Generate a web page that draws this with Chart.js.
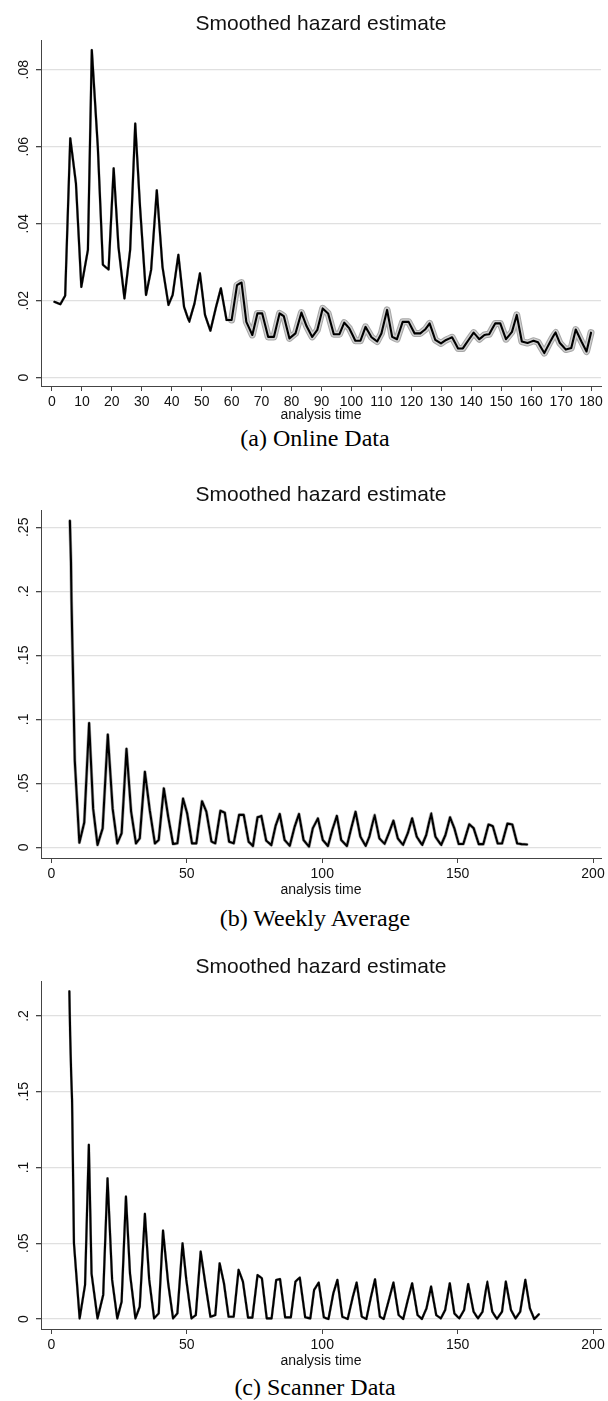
<!DOCTYPE html>
<html>
<head>
<meta charset="utf-8">
<script src="https://cdn.jsdelivr.net/npm/chart.js@4"></script>
<style>
  body { margin: 0; background: #fff; width: 608px; height: 1401px; position: relative; overflow: hidden; }
  .box { position: absolute; left: 0; width: 608px; }
  .cap { position: absolute; left: 0; width: 630px; text-align: center; font-family: "Liberation Serif", "Times New Roman", serif; font-size: 24px; line-height: 28px; color: #000; }
</style>
</head>
<body>
<div class="box" style="top:0;height:424px"><canvas id="online"></canvas></div>
<div class="cap" style="top:424px">(a) Online Data</div>
<div class="box" style="top:460px;height:439px"><canvas id="weekly"></canvas></div>
<div class="cap" style="top:904px">(b) Weekly Average</div>
<div class="box" style="top:930px;height:440px"><canvas id="scanner"></canvas></div>
<div class="cap" style="top:1373px">(c) Scanner Data</div>
<script>
// (a) online data: analysis time / smoothed hazard
const onlineTime = [0.8, 2.8, 4.4, 6.1, 8.0, 9.8, 12.0, 13.3, 15.3, 17.0,
  18.9, 20.6, 22.2, 24.2, 26.1, 27.8, 29.4, 31.4, 33.1, 35.0,
  36.9, 38.9, 40.3, 42.2, 44.1, 45.8, 47.6, 49.4, 51.1, 52.9,
  54.8, 56.4, 58.3, 60.0, 61.8, 63.3, 64.9, 66.9, 68.6, 70.2,
  72.2, 74.1, 76.0, 77.4, 79.3, 81.3, 83.3, 85.0, 86.9, 88.6,
  90.4, 92.2, 94.1, 96.0, 97.6, 99.3, 101.3, 103.0, 104.7, 106.7,
  108.6, 110.0, 111.9, 113.6, 115.2, 117.1, 119.1, 121.1, 123.0, 124.7,
  126.1, 128.0, 129.9, 131.6, 133.6, 135.6, 137.2, 139.1, 140.8, 142.7,
  144.4, 146.0, 148.0, 149.7, 151.6, 153.6, 155.2, 156.9, 158.8, 160.8,
  162.3, 164.4, 166.2, 168.1, 169.6, 171.6, 173.4, 174.9, 176.8, 178.5, 180.0];
const onlineHazard = [0.0197, 0.0191, 0.0213, 0.0622, 0.0505, 0.0236, 0.0332, 0.0851, 0.0600, 0.0293,
  0.0281, 0.0544, 0.0340, 0.0206, 0.0332, 0.0660, 0.0444, 0.0215, 0.0280, 0.0487,
  0.0288, 0.0189, 0.0215, 0.0319, 0.0184, 0.0145, 0.0193, 0.0271, 0.0163, 0.0122,
  0.0184, 0.0232, 0.0150, 0.0150, 0.0241, 0.0247, 0.0145, 0.0111, 0.0167, 0.0167,
  0.0106, 0.0106, 0.0167, 0.0160, 0.0102, 0.0115, 0.0169, 0.0134, 0.0106, 0.0124,
  0.0180, 0.0167, 0.0113, 0.0113, 0.0143, 0.0128, 0.0096, 0.0096, 0.0132, 0.0105,
  0.0094, 0.0115, 0.0176, 0.0106, 0.0100, 0.0145, 0.0145, 0.0115, 0.0115, 0.0126,
  0.0141, 0.0098, 0.0089, 0.0098, 0.0105, 0.0076, 0.0076, 0.0098, 0.0117, 0.0100,
  0.0111, 0.0113, 0.0141, 0.0141, 0.0100, 0.0119, 0.0163, 0.0094, 0.0090, 0.0096,
  0.0092, 0.0064, 0.0091, 0.0118, 0.0090, 0.0073, 0.0077, 0.0125, 0.0094, 0.0068, 0.0117];

// (b) weekly average
const weeklyTime = [6.8, 7.2, 7.4, 7.7, 8.0, 8.3, 8.6, 10.3, 12.1, 13.9,
  15.4, 17.0, 18.9, 20.8, 22.6, 24.3, 25.9, 27.7, 29.4, 31.2,
  32.6, 34.5, 36.3, 38.2, 39.6, 41.5, 43.1, 44.9, 46.5, 48.6,
  50.1, 51.9, 53.5, 55.6, 57.2, 59.1, 60.5, 62.4, 64.0, 65.6,
  67.3, 69.3, 71.0, 72.8, 74.4, 76.1, 77.5, 79.3, 81.2, 82.8,
  84.3, 86.1, 88.0, 89.8, 91.4, 93.1, 95.1, 96.5, 98.4, 100.2,
  102.1, 103.7, 105.4, 107.0, 109.1, 110.7, 112.3, 114.1, 116.0, 117.4,
  119.3, 121.1, 123.0, 124.6, 126.3, 127.9, 129.8, 131.6, 133.2, 134.9,
  136.9, 138.4, 140.2, 141.8, 143.9, 145.5, 147.2, 148.8, 150.4, 152.1,
  154.3, 155.9, 157.8, 159.5, 161.4, 163.0, 164.8, 166.4, 168.4, 170.2,
  172.0, 173.6, 175.6];
const weeklyHazard = [0.255, 0.223, 0.192, 0.160, 0.130, 0.099, 0.068, 0.0036, 0.0193, 0.097,
  0.030, 0.0018, 0.0148, 0.088, 0.030, 0.003, 0.011, 0.077, 0.028, 0.003,
  0.007, 0.059, 0.029, 0.003, 0.0057, 0.046, 0.024, 0.0026, 0.0031, 0.038,
  0.0266, 0.0031, 0.0031, 0.036, 0.0279, 0.0044, 0.0031, 0.0286, 0.027, 0.0044,
  0.0031, 0.0253, 0.0253, 0.0044, 0.001, 0.0234, 0.0245, 0.0052, 0.0017, 0.017,
  0.026, 0.0057, 0.0012, 0.016, 0.026, 0.0057, 0.0005, 0.0148, 0.0226, 0.0057,
  0.001, 0.0135, 0.0245, 0.0057, 0.001, 0.0148, 0.0278, 0.0083, 0.001, 0.0083,
  0.0253, 0.007, 0.0026, 0.011, 0.0208, 0.007, 0.0018, 0.011, 0.0226, 0.0083,
  0.0018, 0.0096, 0.0265, 0.0083, 0.0018, 0.0096, 0.0234, 0.0148, 0.0026, 0.0026,
  0.018, 0.015, 0.0025, 0.0025, 0.0178, 0.0165, 0.003, 0.003, 0.0185, 0.0178,
  0.003, 0.0025, 0.0022];

// (c) scanner data
const scannerTime = [6.6, 6.9, 7.3, 7.6, 7.9, 8.3, 10.4, 12.4, 13.8, 14.8,
  17.0, 19.1, 20.7, 22.4, 24.3, 25.9, 27.5, 29.0, 31.0, 32.6,
  34.5, 36.1, 37.9, 39.6, 41.2, 43.1, 44.9, 46.5, 48.4, 49.8,
  51.7, 53.3, 55.1, 56.8, 58.7, 60.5, 62.1, 63.7, 65.4, 67.3,
  69.1, 70.7, 72.6, 74.2, 76.1, 77.7, 79.5, 81.3, 83.0, 84.4,
  86.3, 88.4, 90.1, 91.7, 93.7, 95.6, 97.0, 98.7, 100.6, 102.3,
  104.1, 105.6, 107.4, 109.4, 111.3, 112.7, 114.6, 116.3, 118.0, 119.5,
  121.3, 122.7, 124.6, 126.3, 128.2, 129.9, 131.6, 133.2, 135.2, 136.8,
  138.5, 140.2, 142.1, 143.8, 145.4, 147.1, 148.8, 150.6, 152.4, 153.9,
  155.9, 157.5, 159.2, 160.9, 162.8, 164.5, 166.4, 167.8, 169.7, 171.4,
  173.1, 175.0, 176.7, 178.3, 180.0];
const scannerHazard = [0.2162, 0.1876, 0.1601, 0.1446, 0.105, 0.05, 0.0004, 0.0225, 0.115, 0.030,
  0.0004, 0.0159, 0.0929, 0.0258, 0.0004, 0.0114, 0.0808, 0.030, 0.0004, 0.0081,
  0.0694, 0.0258, 0.0004, 0.0037, 0.0583, 0.0236, 0.0004, 0.0037, 0.050, 0.0258,
  0.0004, 0.0026, 0.0445, 0.0236, 0.0015, 0.0026, 0.0368, 0.0236, 0.0015, 0.0015,
  0.0324, 0.0247, 0.0009, 0.0009, 0.029, 0.0269, 0.0004, 0.0004, 0.0258, 0.0264,
  0.0011, 0.0011, 0.0247, 0.0273, 0.0011, 0.0004, 0.0192, 0.024, 0.0011, 0.0,
  0.017, 0.0258, 0.0015, 0.0, 0.0147, 0.024, 0.0015, 0.0, 0.0147, 0.0262,
  0.0015, 0.0, 0.0125, 0.024, 0.0026, 0.0, 0.0125, 0.0236, 0.0026, 0.0,
  0.007, 0.0214, 0.0026, 0.0004, 0.006, 0.0236, 0.0037, 0.0004, 0.006, 0.0231,
  0.0048, 0.0004, 0.0048, 0.0247, 0.0048, 0.0, 0.0048, 0.0247, 0.006, 0.0004,
  0.0048, 0.0258, 0.007, 0.0, 0.0031];

// tick values and labels
const onlineXTicks = [0, 10, 20, 30, 40, 50, 60, 70, 80, 90, 100, 110, 120, 130, 140, 150, 160, 170, 180];
const wideXTicks = [0, 50, 100, 150, 200];
const onlineYTicks = [0, 0.02, 0.04, 0.06, 0.08];
const onlineYLabels = ['0', '.02', '.04', '.06', '.08'];
const weeklyYTicks = [0, 0.05, 0.1, 0.15, 0.2, 0.25];
const weeklyYLabels = ['0', '.05', '.1', '.15', '.2', '.25'];
const scannerYTicks = [0, 0.05, 0.1, 0.15, 0.2];
const scannerYLabels = ['0', '.05', '.1', '.15', '.2'];

const FONT = '"Liberation Sans", Arial, sans-serif';

function hazardChart(id, times, hazard, c) {
  const pts = times.map((t, i) => ({ x: t, y: hazard[i] }));
  // band width may vary along x (confidence band widens later on)
  const line = (color, width) => {
    const w = typeof width === 'function' ? width : () => width;
    return {
      data: pts, borderColor: color, pointRadius: 0,
      tension: 0.001, // keeps chart.js off its pixel-merging fast path
      borderJoinStyle: 'round', borderCapStyle: 'round',
      borderWidth: w(1000),
      segment: { borderWidth: ctx => w(ctx.p0.parsed.x) }
    };
  };
  return new Chart(document.getElementById(id).getContext('2d'), {
    type: 'line',
    data: {
      datasets: [
        line('#000', 2.1),
        line('#d0d0d0', c.bandInner),
        line('#a6a6a6', c.bandOuter)
      ]
    },
    options: {
      responsive: true,
      maintainAspectRatio: false,
      animation: false,
      layout: { padding: { left: 0, right: 7, top: 0, bottom: 0 } },
      plugins: {
        legend: { display: false },
        tooltip: { enabled: false },
        title: {
          display: true,
          fullSize: false,
          text: 'Smoothed hazard estimate',
          color: '#111',
          font: { family: FONT, size: 21, weight: 'normal' },
          padding: { top: c.titleTop, bottom: c.titleBottom }
        }
      },
      scales: {
        x: {
          type: 'linear',
          min: c.xMin, max: c.xMax,
          afterBuildTicks: s => { s.ticks = c.xTicks.map(v => ({ value: v })); },
          afterFit: s => { s.height = c.xHeight; },
          ticks: { autoSkip: false, minRotation: 0, maxRotation: 0, padding: 3, color: '#111',
                   font: { family: FONT, size: 14 }, callback: v => String(v) },
          grid: { drawOnChartArea: false, tickLength: 5, tickColor: '#444' },
          border: { color: '#444', width: 1 },
          title: { display: true, text: 'analysis time', color: '#111',
                   font: { family: FONT, size: 14 }, padding: 0 }
        },
        y: {
          type: 'linear',
          min: c.yMin, max: c.yMax,
          afterBuildTicks: s => { s.ticks = c.yTicks.map(v => ({ value: v })); },
          afterFit: s => { s.width = 41; },
          ticks: { minRotation: 90, maxRotation: 90, crossAlign: 'center', padding: 2, color: '#111',
                   font: { family: FONT, size: 14 },
                   callback: v => c.yLabels[c.yTicks.indexOf(v)] },
          grid: { color: '#e0e0e0', lineWidth: 1.3, tickLength: 5, tickColor: '#444' },
          border: { color: '#444', width: 1 }
        }
      }
    }
  });
}

hazardChart('online', onlineTime, onlineHazard, {
  xMin: -11 / 3, xMax: 180 + 10 / 3, xTicks: onlineXTicks, xHeight: 38,
  yMin: -0.002156, yMax: 0.08771, yTicks: onlineYTicks, yLabels: onlineYLabels,
  titleTop: 11.4, titleBottom: 3.4,
  bandInner: x => (x < 59 ? 2 : 5), bandOuter: x => (x < 59 ? 2.6 : 7)
});

hazardChart('weekly', weeklyTime, weeklyHazard, {
  xMin: -3.87, xMax: 202.95, xTicks: wideXTicks, xHeight: 41,
  yMin: -0.00836, yMax: 0.26352, yTicks: weeklyYTicks, yLabels: weeklyYLabels,
  titleTop: 22.4, titleBottom: 2.4,
  bandInner: 2.6, bandOuter: 3.2
});

hazardChart('scanner', scannerTime, scannerHazard, {
  xMin: -3.87, xMax: 202.95, xTicks: wideXTicks, xHeight: 41,
  yMin: -0.0066, yMax: 0.22259, yTicks: scannerYTicks, yLabels: scannerYLabels,
  titleTop: 24.4, titleBottom: 2.1,
  bandInner: 2.3, bandOuter: 2.6
});
</script>
</body>
</html>
